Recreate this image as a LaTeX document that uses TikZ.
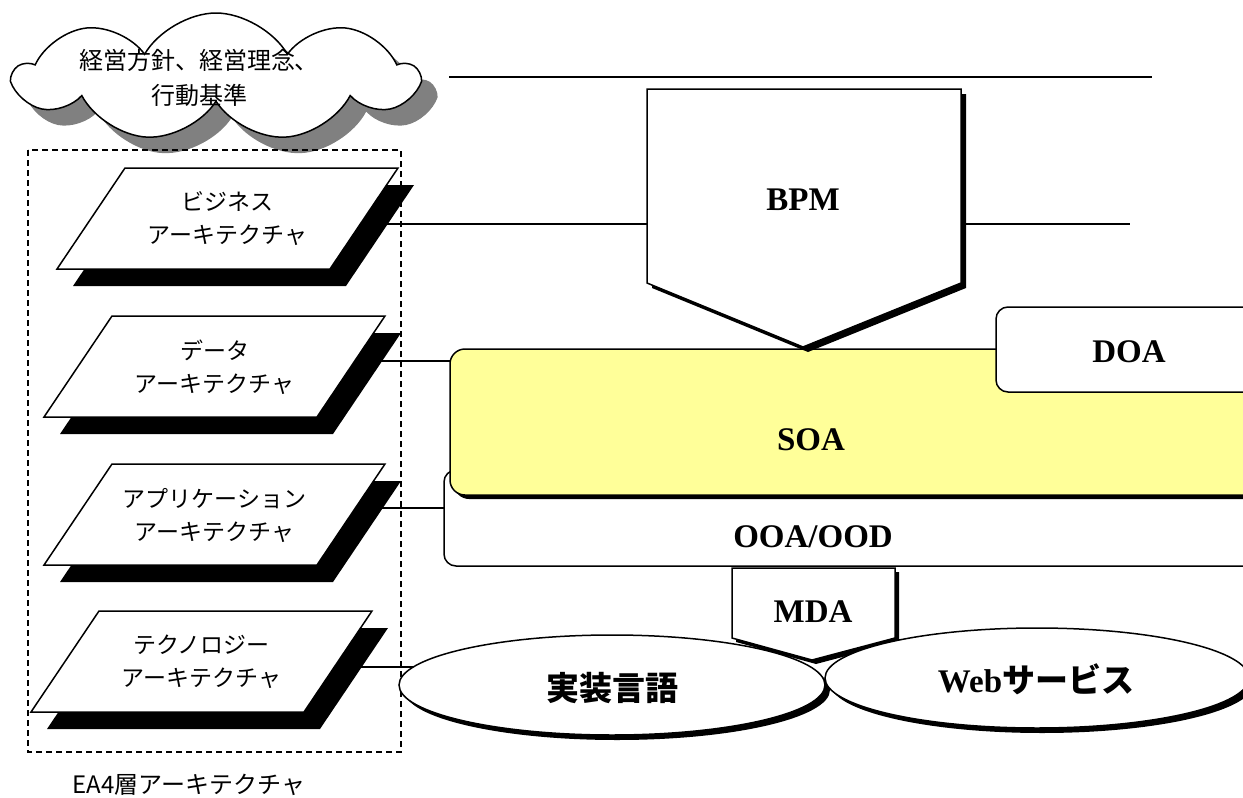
\documentclass[tikz,border=0pt]{standalone}
\usepackage{fontspec}
\setmainfont{Liberation Serif}
\newfontfamily\jp{Noto Sans CJK JP}
\usetikzlibrary{shapes.symbols}
\definecolor{soay}{RGB}{255,255,153}
\definecolor{cloudsh}{RGB}{128,128,128}
\newcommand\drawlayer[4]{%
  \fill[black] (#2+16,#3+17) -- ++(273,0) -- ++(-68,101) -- ++(-273,0) -- cycle;
  \draw[outl,fill=white] (#2,#3) -- ++(273,0) -- ++(-68,101) -- ++(-273,0) -- cycle;
  \node[layertxt] (#1) at (#2+102.5,#3+51) {#4};
}
\begin{document}
\begin{tikzpicture}[x=1pt,y=-1pt,
  outl/.style={draw=black,line width=1.5pt,line join=miter},
  conn/.style={draw=black,line width=1.4pt},
  layertxt/.style={font=\jp\fontsize{23}{33}\selectfont,align=center,inner sep=0pt},
  boldlbl/.style={font=\fontsize{33}{36}\selectfont\bfseries,inner sep=0pt},
  jpbold/.style={font=\jp\bfseries\fontsize{33}{36}\selectfont,inner sep=0pt},
  cloudshape/.style={cloud, cloud puffs=9, cloud puff arc=120, aspect=3.2,
     minimum width=402pt, minimum height=128pt, inner sep=0pt}
]
\useasboundingbox (0,0) rectangle (1243,798);
\clip (0,0) rectangle (1243,798);

% connector end points
\coordinate (topL) at (449,77);
\coordinate (topR) at (1152,77);
\coordinate (bizE) at (360,224);
\coordinate (bpmW) at (652,224);
\coordinate (bpmE) at (958,224);
\coordinate (bpmOut) at (1130,224);
\coordinate (dataE) at (360,361);
\coordinate (soaW) at (456,361);
\coordinate (appE) at (360,508);
\coordinate (ooaW) at (450,508);
\coordinate (techE) at (340,667);
\coordinate (implW) at (420,667);

% connectors (drawn first, shapes cover their ends)
\draw[conn] (topL) -- (topR);
\draw[conn] (bizE) -- (bpmW);
\draw[conn] (bpmE) -- (bpmOut);
\draw[conn] (dataE) -- (soaW);
\draw[conn] (appE) -- (ooaW);
\draw[conn] (techE) -- (implW);

% cloud
\node[cloudshape, fill=cloudsh, draw=none] (cloudshadow) at (232,93) {};
\node[cloudshape, fill=white, draw=black, line width=1.5pt] (cloud) at (216,77) {};
\node[layertxt, font=\jp\fontsize{24}{35}\selectfont] (cloudtxt) at (199,78) {経営方針、経営理念、\\行動基準};

% dashed frame
\draw[black, line width=1.5pt, dash pattern=on 6pt off 4pt] (28,150) rectangle (401,752);
\node[layertxt, font=\jp\fontsize{24}{30}\selectfont] (ea4) at (189,785) {EA4層アーキテクチャ};

% layers
\drawlayer{biz}{125}{168}{ビジネス\\アーキテクチャ}
\drawlayer{data}{112}{316}{データ\\アーキテクチャ}
\drawlayer{app}{112}{464}{アプリケーション\\アーキテクチャ}
\drawlayer{tech}{99}{611}{テクノロジー\\アーキテクチャ}

% OOA/OOD
\draw[outl, fill=white, rounded corners=12pt] (444,470) rectangle (1275,566);
\node[boldlbl] (ooa) at (813,537) {OOA/OOD};

% SOA
\fill[black, rounded corners=15pt] (454,353) rectangle (1275,499);
\draw[outl, fill=soay, rounded corners=15pt] (450,349) rectangle (1275,495);
\node[boldlbl] (soa) at (811,440) {SOA};

% DOA
\draw[outl, fill=white, rounded corners=12pt] (996,307) rectangle (1275,392);
\node[boldlbl] (doa) at (1129,352) {DOA};

% BPM
\fill[black] (652,94) -- (966,94) -- (966,288) -- (808,352) -- (652,288) -- cycle;
\draw[outl, fill=white] (647,89) -- (961,89) -- (961,283) -- (803,347) -- (647,283) -- cycle;
\node[boldlbl] (bpm) at (803,200) {BPM};

% MDA
\fill[black] (736,572) -- (899,572) -- (899,642) -- (816,664) -- (736,642) -- cycle;
\draw[outl, fill=white] (732,568) -- (895,568) -- (895,638) -- (812,660) -- (732,638) -- cycle;
\node[boldlbl] (mda) at (813,612) {MDA};

% ellipses
\fill[black] (617,690) ellipse [x radius=213pt, y radius=50pt];
\draw[outl, fill=white] (612,685) ellipse [x radius=213pt, y radius=50pt];
\node[jpbold] (impl) at (612,688) {実装言語};
\fill[black] (1042,683) ellipse [x radius=212pt, y radius=50pt];
\draw[outl, fill=white] (1037,678) ellipse [x radius=212pt, y radius=50pt];
\node[inner sep=0pt] (web) at (1036,679) {{\bfseries\fontsize{33}{36}\selectfont Web}{\jp\bfseries\fontsize{33}{36}\selectfont サービス}};
\end{tikzpicture}
\end{document}
